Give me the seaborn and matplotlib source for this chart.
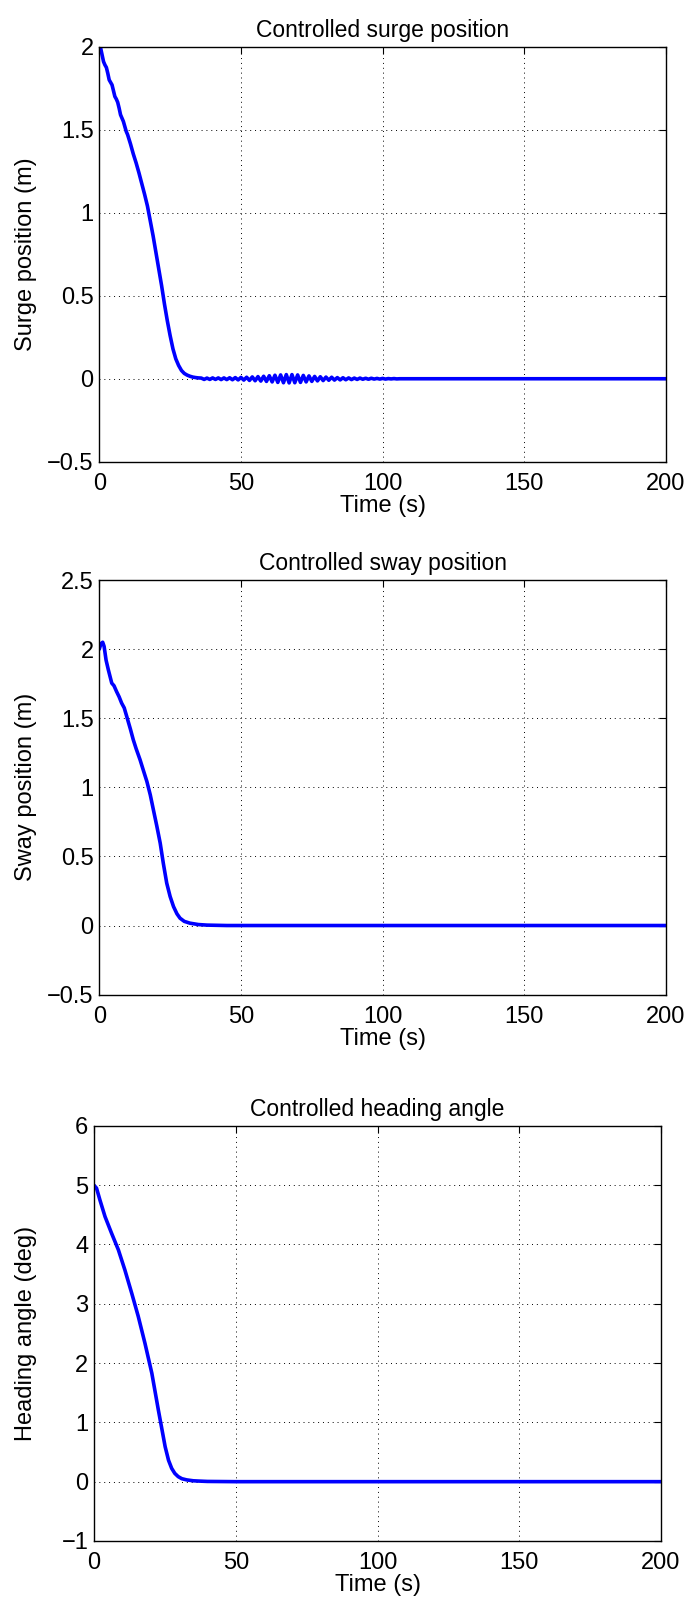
import matplotlib
matplotlib.use("Agg")
import matplotlib.pyplot as plt
import matplotlib.transforms as mtransforms
import seaborn as sns
import pandas as pd

# ---- data ----
# surge position (m): main descent, then the small ringing around zero
surge_t = [0, 0.5, 1.0, 1.5, 2.0, 2.5, 3.0, 3.5, 4.0, 4.5, 5.0, 5.5, 6.0, 6.5,
           7.0, 7.5, 8.0, 8.5, 9.0, 9.5, 10, 11, 12, 13, 14, 15, 16, 17, 18,
           19, 20, 21, 22, 23, 24, 25, 26, 27, 28, 29, 30, 31, 32, 33, 34, 35]
surge_y = [2.0, 1.99, 1.95, 1.91, 1.89, 1.875, 1.84, 1.80, 1.785, 1.77, 1.735,
           1.70, 1.685, 1.665, 1.63, 1.59, 1.57, 1.55, 1.52, 1.49, 1.47, 1.415,
           1.354, 1.30, 1.24, 1.175, 1.11, 1.04, 0.95, 0.86, 0.76, 0.66, 0.56,
           0.45, 0.35, 0.26, 0.18, 0.12, 0.08, 0.05, 0.032, 0.022, 0.015,
           0.010, 0.007, 0.005]
ring_t = [36, 37, 38, 39, 40, 41, 42, 43, 44, 45, 46, 47, 48, 49, 50, 51, 52,
          53, 54, 55, 56, 57, 58, 59, 60, 61, 62, 63, 64, 65, 66, 67, 68, 69,
          70, 71, 72, 73, 74, 75, 76, 77, 78, 79, 80, 81, 82, 83, 84, 85, 86,
          87, 88, 89, 90, 91, 92, 93, 94, 95, 96, 97, 98, 99, 100, 101, 102,
          103, 104, 105, 106, 108, 110, 150, 200]
ring_y = [0.004, -0.004, 0.004, -0.004, 0.005, -0.004, 0.005, -0.005, 0.005,
          -0.005, 0.006, -0.006, 0.007, -0.007, 0.008, -0.008, 0.009, -0.010,
          0.011, -0.012, 0.013, -0.014, 0.015, -0.016, 0.018, -0.019, 0.021,
          -0.022, 0.023, -0.024, 0.025, -0.025, 0.025, -0.024, 0.023, -0.022,
          0.020, -0.019, 0.017, -0.016, 0.014, -0.013, 0.012, -0.011, 0.010,
          -0.009, 0.009, -0.008, 0.007, -0.007, 0.006, -0.006, 0.005, -0.005,
          0.004, -0.004, 0.004, -0.003, 0.003, -0.003, 0.003, -0.002, 0.002,
          -0.002, 0.002, -0.002, 0.001, -0.001, 0.001, -0.001, 0.0, 0.0, 0.0,
          0.0, 0.0]

# sway position (m)
sway_t = [0, 0.6, 1.2, 1.7, 2.4, 3.2, 4.4, 5.2, 6.1, 7.0, 7.9, 8.8, 9.7, 11,
          12, 13, 14.4, 15.6, 16.8, 18, 19.1, 20.3, 21.5, 22.6, 23.8, 25,
          26.2, 27.4, 28.5, 30, 32, 35, 38, 45, 100, 200]
sway_y = [2.0, 2.04, 2.05, 2.02, 1.92, 1.85, 1.754, 1.735, 1.693, 1.655, 1.609,
          1.575, 1.512, 1.42, 1.344, 1.28, 1.199, 1.12, 1.042, 0.945, 0.837,
          0.72, 0.596, 0.45, 0.307, 0.21, 0.137, 0.085, 0.053, 0.03, 0.017,
          0.007, 0.003, 0.0, 0.0, 0.0]

# heading angle (deg)
head_t = [0, 0.9, 2.1, 3.9, 6.2, 8.6, 10.9, 13.3, 15.6, 18.0, 20.4, 22.7, 25.1,
          26.3, 27.4, 28.5, 29.7, 31, 32.7, 35, 37, 40, 50, 100, 200]
head_y = [5.0, 4.95, 4.75, 4.47, 4.19, 3.91, 3.57, 3.18, 2.79, 2.33, 1.83, 1.21,
          0.59, 0.36, 0.225, 0.14, 0.085, 0.05, 0.03, 0.015, 0.01, 0.004, 0.0,
          0.0, 0.0]

titles = ["Controlled surge position", "Controlled sway position",
          "Controlled heading angle"]
ylabels = ["Surge position (m)", "Sway position (m)", "Heading angle (deg)"]
yticks = [[-0.5, 0, 0.5, 1, 1.5, 2],
          [-0.5, 0, 0.5, 1, 1.5, 2, 2.5],
          [-1, 0, 1, 2, 3, 4, 5, 6]]
xticks = [0, 50, 100, 150, 200]

sns.set_theme(style="white")
plt.rcParams.update({
    "font.family": ["Liberation Sans", "DejaVu Sans"],
    "font.size": 17,
    "axes.linewidth": 1.0,
    "axes.edgecolor": "black",
    "xtick.direction": "in",
    "ytick.direction": "in",
    "xtick.color": "black",
    "ytick.color": "black",
    "text.color": "black",
    "axes.labelcolor": "black",
})

fig = plt.figure(figsize=(6.89, 16.05), dpi=100)
positions = [
    [0.1441, 0.7123, 0.8225, 0.2586],
    [0.1441, 0.3803, 0.8225, 0.2583],
    [0.1364, 0.0399, 0.8230, 0.2586],
]

series = [
    (surge_t + ring_t, surge_y + ring_y),
    (sway_t, sway_y),
    (head_t, head_y),
]

for i, (t, y) in enumerate(series):
    ax = fig.add_axes(positions[i])
    df = pd.DataFrame({"t": t, "y": y})
    sns.lineplot(data=df, x="t", y="y", ax=ax, color="#0000ff", lw=2.6,
                 estimator=None, sort=False)
    ax.set_xlim(0, 200)
    ax.set_ylim(yticks[i][0], yticks[i][-1])
    ax.set_xticks(xticks)
    ax.set_yticks(yticks[i])
    ax.set_yticklabels([f"{v:g}".replace("-", "\u2212") for v in yticks[i]])
    ax.grid(True, linestyle=(0, (1, 4)), color="black", linewidth=0.7)
    ax.tick_params(axis="both", which="major", labelsize=17, length=5,
                   width=0.8, top=True, right=True)
    ax.tick_params(axis="x", pad=8)
    ax.tick_params(axis="y", pad=4)
    for s in ax.spines.values():
        s.set_visible(True)
        s.set_color("black")
    ax.set_title(titles[i], fontsize=16.5, pad=7)
    ax.set_xlabel("Time (s)", fontsize=17, labelpad=0)
    ax.set_ylabel(ylabels[i], fontsize=17)
    # same label column for all three panels, as in the reference
    ax.yaxis.set_label_coords(
        0.054, 0.5,
        transform=mtransforms.blended_transform_factory(fig.transFigure,
                                                        ax.transAxes))

fig.savefig("out.png", dpi=100, facecolor="white")
